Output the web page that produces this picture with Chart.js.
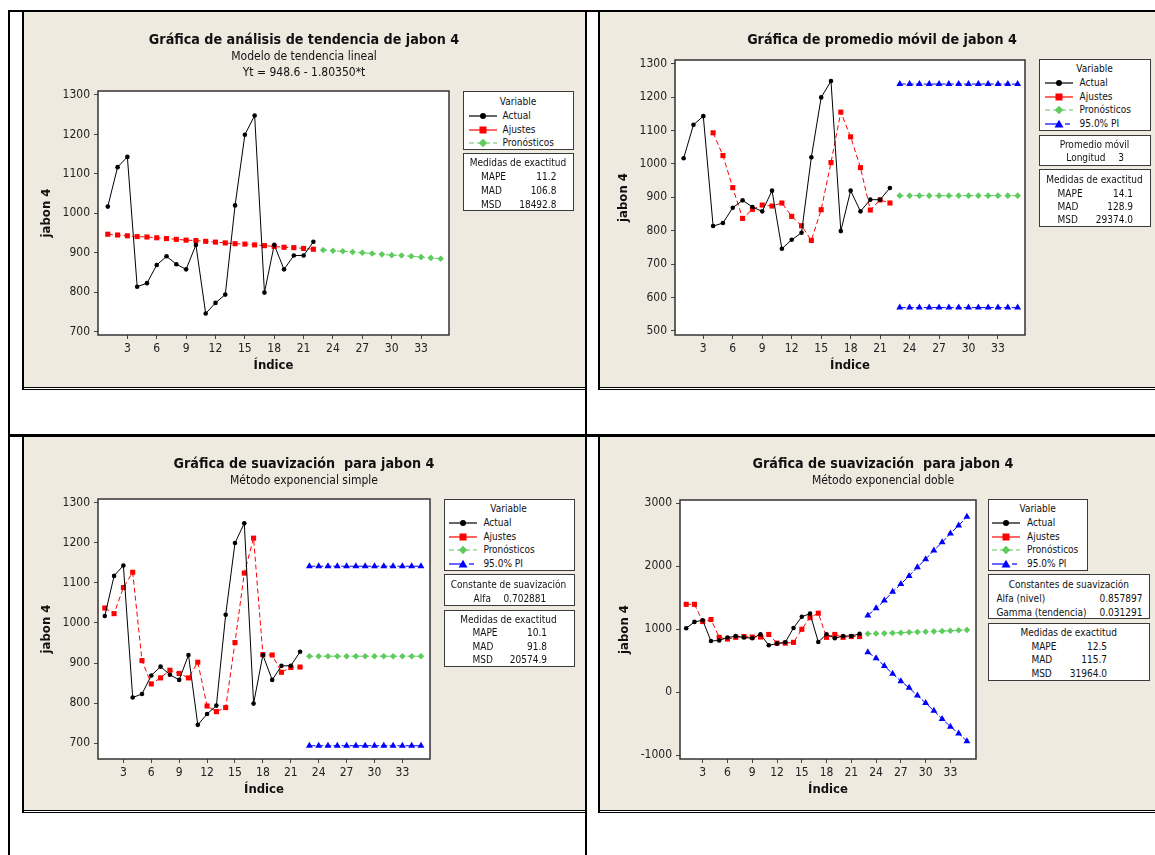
<!DOCTYPE html>
<html>
<head>
<meta charset="utf-8">
<script src="https://cdn.jsdelivr.net/npm/chart.js@4.4.1/dist/chart.umd.min.js"></script>
<style>
  html, body { margin: 0; padding: 0; background: #fff; }
  body { position: relative; width: 1155px; height: 855px; overflow: hidden;
         font-family: 'DejaVu Sans Condensed', 'DejaVu Sans', sans-serif; color: #111; }
  .rule { position: absolute; background: #000; }
  .panel { position: absolute; background: #EEEAE0; overflow: hidden; }
  .panel canvas { position: absolute; left: 0; top: 0; }
  .ttl { position: absolute; white-space: pre; text-align: center; transform: translate(-50%, -50%); }
  .ttl.main { font-weight: bold; font-size: 14.2px; }
  .ttl.sub { font-size: 12px; }
  .box { position: absolute; background: #fff; border: 1.5px solid #3a3a3a; box-sizing: border-box; }
  .box .t { position: absolute; white-space: pre; font-size: 10px; line-height: 12px; transform: translateY(-50%); }
  .box .c { transform: translate(-50%, -50%); }
  .box .r { transform: translate(-100%, -50%); }
  .box svg { position: absolute; }
</style>
</head>
<body>
<script>
// ---- series (index t = 1..22 observed, 23..35 forecast) ----
const obsIndex = [1, 2, 3, 4, 5, 6, 7, 8, 9, 10, 11, 12, 13, 14, 15, 16, 17, 18, 19, 20, 21, 22];
const fcIndex = [23, 24, 25, 26, 27, 28, 29, 30, 31, 32, 33, 34, 35];
const actual = [1017, 1117, 1143, 814, 823, 869, 891, 871, 858, 920, 746, 773, 794, 1020, 1199, 1248, 799, 920, 858, 893, 893, 928];

// linear trend model
const trendFits = [947, 945, 943, 941, 940, 938, 936, 934, 932, 931, 929, 927, 925, 923, 922, 920, 918, 916, 914, 913, 911, 909];
const trendForecast = [907, 905, 904, 902, 900, 898, 896, 894, 893, 891, 889, 887, 885];

// moving average, length 3
const maFitIndex = [4, 5, 6, 7, 8, 9, 10, 11, 12, 13, 14, 15, 16, 17, 18, 19, 20, 21, 22];
const maFits = [1093, 1025, 929, 837, 864, 877, 874, 883, 843, 815, 771, 863, 1004, 1155, 1081, 989, 862, 892, 883];
const maForecast = [905, 905, 905, 905, 905, 905, 905, 905, 905, 905, 905, 905, 905];
const maUpper = [1239, 1239, 1239, 1239, 1239, 1239, 1239, 1239, 1239, 1239, 1239, 1239, 1239];
const maLower = [570, 570, 570, 570, 570, 570, 570, 570, 570, 570, 570, 570, 570];

// single exponential smoothing
const sesFits = [1037, 1023, 1088, 1126, 906, 848, 863, 882, 874, 863, 902, 793, 779, 789, 951, 1124, 1211, 921, 920, 877, 889, 890];
const sesForecast = [917, 917, 917, 917, 917, 917, 917, 917, 917, 917, 917, 917, 917];
const sesUpper = [1141, 1141, 1141, 1141, 1141, 1141, 1141, 1141, 1141, 1141, 1141, 1141, 1141];
const sesLower = [694, 694, 694, 694, 694, 694, 694, 694, 694, 694, 694, 694, 694];

// double exponential smoothing
const desFits = [1396, 1396, 1123, 1155, 872, 845, 872, 885, 877, 877, 918, 780, 780, 792, 1000, 1185, 1255, 872, 918, 872, 885, 885];
const desForecast = [930, 932, 935, 941, 946, 953, 956, 960, 966, 971, 977, 984, 990];
const desUpper = [1220, 1332, 1455, 1594, 1717, 1846, 1985, 2113, 2252, 2381, 2520, 2648, 2787];
const desLower = [637, 540, 417, 294, 177, 70, -53, -171, -294, -423, -546, -653, -776];

// axis ticks
const xTickValues = [3, 6, 9, 12, 15, 18, 21, 24, 27, 30, 33];
const xTickLabels = ['3', '6', '9', '12', '15', '18', '21', '24', '27', '30', '33'];
const yTicksTrend = [700, 800, 900, 1000, 1100, 1200, 1300];
const yTicksMA = [500, 600, 700, 800, 900, 1000, 1100, 1200, 1300];
const yTicksSES = [700, 800, 900, 1000, 1100, 1200, 1300];
const yTicksDES = [-1000, 0, 1000, 2000, 3000];

// legend / summary text
const seriesNames = ['Actual', 'Ajustes', 'Pronósticos', '95.0% PI'];
const accuracyNames = ['MAPE', 'MAD', 'MSD'];
const trendAccuracy = ['11.2', '106.8', '18492.8'];
const maAccuracy = ['14.1', '128.9', '29374.0'];
const sesAccuracy = ['10.1', '91.8', '20574.9'];
const desAccuracy = ['12.5', '115.7', '31964.0'];

const FONT = "'DejaVu Sans Condensed', 'DejaVu Sans', sans-serif";
const COLORS = { actual: '#000000', fits: '#FF0000', forecast: '#5DCB5D', pi: '#0000FF' };

function pts(xs, ys) { return xs.map((x, i) => ({ x: x, y: ys[i] })); }

function ds(kind, label, xs, ys) {
  const base = { label: label, data: pts(xs, ys), borderWidth: 1, pointBorderWidth: 0, fill: false, tension: 0 };
  const c = COLORS[kind];
  base.borderColor = c; base.backgroundColor = c; base.pointBackgroundColor = c;
  if (kind === 'actual') { base.pointStyle = 'circle'; base.pointRadius = 2.3; }
  if (kind === 'fits') { base.pointStyle = 'rect'; base.pointRadius = 3.6; base.borderDash = [5, 3]; }
  if (kind === 'forecast') { base.pointStyle = 'rectRot'; base.pointRadius = 3.3; base.borderDash = [4, 3]; }
  if (kind === 'pi') { base.pointStyle = 'triangle'; base.pointRadius = 4; base.borderDash = [6, 2]; }
  return base;
}

// white plotting region with a dark frame
const plotFrame = {
  id: 'plotFrame',
  beforeDraw(chart) {
    const a = chart.chartArea, ctx = chart.ctx;
    ctx.save(); ctx.fillStyle = '#ffffff';
    ctx.fillRect(a.left, a.top, a.right - a.left, a.bottom - a.top); ctx.restore();
  },
  afterDraw(chart) {
    const a = chart.chartArea, ctx = chart.ctx;
    ctx.save(); ctx.strokeStyle = '#333333'; ctx.lineWidth = 1.5;
    ctx.strokeRect(a.left, a.top, a.right - a.left, a.bottom - a.top); ctx.restore();
  }
};

function rule(x, y, w, h) {
  const d = document.createElement('div'); d.className = 'rule';
  Object.assign(d.style, { left: x + 'px', top: y + 'px', width: w + 'px', height: h + 'px' });
  document.body.appendChild(d);
}

function makePanel(p) {
  const panel = document.createElement('div'); panel.className = 'panel';
  Object.assign(panel.style, { left: p.x + 'px', top: p.y + 'px', width: p.w + 'px', height: p.h + 'px' });
  document.body.appendChild(panel);
  const cv = document.createElement('canvas'); cv.width = p.w; cv.height = p.h;
  cv.style.width = p.w + 'px'; cv.style.height = p.h + 'px';
  panel.appendChild(cv);

  p.titles.forEach(t => {
    const d = document.createElement('div'); d.className = 'ttl ' + t.cls; d.textContent = t.text;
    d.style.left = t.cx + 'px'; d.style.top = t.cy + 'px'; panel.appendChild(d);
  });

  const L = p.layout;
  new Chart(cv.getContext('2d'), {
    type: 'line',
    data: { datasets: p.datasets },
    plugins: [plotFrame],
    options: {
      responsive: false, animation: false, devicePixelRatio: 1,
      layout: { autoPadding: false, padding: { left: L.l, top: L.t, right: L.r, bottom: L.b } },
      plugins: { legend: { display: false }, tooltip: { enabled: false }, title: { display: false } },
      scales: {
        x: {
          type: 'linear', min: p.xMin, max: p.xMax,
          afterBuildTicks: ax => { ax.ticks = xTickValues.map(v => ({ value: v })); },
          afterFit: ax => { ax.height = L.hx; },
          ticks: { color: '#222', font: { family: FONT, size: 12 }, padding: 3, maxRotation: 0,
                   callback: v => xTickLabels[xTickValues.indexOf(v)] },
          grid: { display: true, drawOnChartArea: false, drawTicks: true, tickLength: 4, color: '#444', lineWidth: 1 },
          border: { display: false },
          title: { display: true, text: 'Índice', color: '#111', font: { family: FONT, size: 13, weight: 'bold' }, padding: { top: 4, bottom: 4 } }
        },
        y: {
          type: 'linear', min: p.yMin, max: p.yMax,
          afterBuildTicks: ax => { ax.ticks = p.yTicks.map(v => ({ value: v })); },
          afterFit: ax => { ax.width = L.wy; },
          ticks: { color: '#222', font: { family: FONT, size: 12 }, padding: 4, callback: v => String(v) },
          grid: { display: true, drawOnChartArea: false, drawTicks: true, tickLength: 4, color: '#444', lineWidth: 1 },
          border: { display: false },
          title: { display: true, text: 'jabon 4', color: '#111', font: { family: FONT, size: 13, weight: 'bold' }, padding: { top: 4, bottom: 4 } }
        }
      }
    }
  });

  p.boxes.forEach(b => panel.appendChild(makeBox(b)));
}

function sample(kind) {
  const c = COLORS[kind];
  let s = '<svg width="30" height="10" viewBox="0 0 30 10" xmlns="http://www.w3.org/2000/svg">';
  if (kind === 'actual') s += `<line x1="1" y1="5" x2="29" y2="5" stroke="${c}" stroke-width="1.2"/><circle cx="15" cy="5" r="3" fill="${c}"/>`;
  if (kind === 'fits') s += `<line x1="1" y1="5" x2="29" y2="5" stroke="${c}" stroke-width="1.2"/><rect x="11.5" y="1.5" width="7" height="7" fill="${c}"/>`;
  if (kind === 'forecast') s += `<line x1="1" y1="5" x2="29" y2="5" stroke="${c}" stroke-width="1.2" stroke-dasharray="5,3"/><polygon points="15,0.8 19.2,5 15,9.2 10.8,5" fill="${c}"/>`;
  if (kind === 'pi') s += `<line x1="1" y1="5" x2="15" y2="5" stroke="${c}" stroke-width="1.2"/><line x1="21" y1="5" x2="26" y2="5" stroke="${c}" stroke-width="1.2"/><polygon points="15,0.8 19.5,8.6 10.5,8.6" fill="${c}"/>`;
  return s + '</svg>';
}

function makeBox(b) {
  const d = document.createElement('div'); d.className = 'box';
  Object.assign(d.style, { left: b.x + 'px', top: b.y + 'px', width: b.w + 'px', height: b.h + 'px' });
  b.items.forEach(it => {
    if (it.svg) {
      const holder = document.createElement('div');
      holder.innerHTML = sample(it.svg);
      const sv = holder.firstChild; sv.style.left = (it.x - 15) + 'px'; sv.style.top = (it.y - 5) + 'px';
      d.appendChild(sv);
      return;
    }
    const t = document.createElement('div'); t.className = 't' + (it.align ? ' ' + it.align : '');
    t.textContent = it.text; t.style.left = it.x + 'px'; t.style.top = it.y + 'px';
    d.appendChild(t);
  });
  return d;
}

// legend rows for the Variable box
function variableBox(x, y, w, h, kinds, rows, mx, tx) {
  const items = [{ text: 'Variable', x: w / 2 - 1.5, y: rows[0], align: 'c' }];
  kinds.forEach((k, i) => {
    items.push({ svg: k, x: mx, y: rows[i + 1] });
    items.push({ text: seriesNames[['actual', 'fits', 'forecast', 'pi'].indexOf(k)], x: tx, y: rows[i + 1] });
  });
  return { x, y, w, h, items };
}

function accuracyBox(x, y, w, h, values, rows, lx, vx) {
  const items = [{ text: 'Medidas de exactitud', x: w / 2 - 1.5, y: rows[0], align: 'c' }];
  accuracyNames.forEach((n, i) => {
    items.push({ text: n, x: lx, y: rows[i + 1] });
    items.push({ text: values[i], x: vx, y: rows[i + 1], align: 'r' });
  });
  return { x, y, w, h, items };
}

// ---------- table rules ----------
rule(8, 10, 1147, 2);
rule(8, 10, 2, 845);
rule(585, 10, 2, 845);
rule(8, 434, 1147, 3);
// graph frames
rule(22, 12, 2, 378); rule(22, 387, 563, 1); rule(22, 389, 563, 1);
rule(598, 12, 2, 378); rule(598, 387, 557, 1); rule(598, 389, 557, 1);
rule(22, 437, 2, 376); rule(22, 810, 563, 1); rule(22, 812, 563, 1);
rule(598, 437, 2, 376); rule(598, 810, 557, 1); rule(598, 812, 557, 1);

// ---------- 1: trend analysis ----------
makePanel({
  x: 24, y: 12, w: 561, h: 375,
  layout: { l: 11, wy: 63, t: 79, r: 136, b: 10, hx: 42 },
  xMin: 0, xMax: 35.85, yMin: 691.6, yMax: 1310, yTicks: yTicksTrend,
  titles: [
    { cls: 'main', text: 'Gráfica de análisis de tendencia de jabon 4', cx: 280, cy: 27 },
    { cls: 'sub', text: 'Modelo de tendencia lineal', cx: 280, cy: 44 },
    { cls: 'sub', text: 'Yt = 948.6 - 1.80350*t', cx: 280, cy: 60 }
  ],
  datasets: [
    ds('actual', 'Actual', obsIndex, actual),
    ds('fits', 'Ajustes', obsIndex, trendFits),
    ds('forecast', 'Pronósticos', fcIndex, trendForecast)
  ],
  boxes: [
    variableBox(439, 79, 111, 59, ['actual', 'fits', 'forecast'], [10, 23.6, 37.6, 51.3], 18.6, 38.6),
    accuracyBox(439, 141, 111, 58, trendAccuracy, [9.4, 23.4, 37, 50.7], 17, 92.4)
  ]
});

// ---------- 2: moving average ----------
makePanel({
  x: 600, y: 12, w: 555, h: 375,
  layout: { l: 12, wy: 63, t: 48, r: 130, b: 10, hx: 42 },
  xMin: 0.12, xMax: 35.75, yMin: 488, yMax: 1311, yTicks: yTicksMA,
  titles: [
    { cls: 'main', text: 'Gráfica de promedio móvil de jabon 4', cx: 282, cy: 27 }
  ],
  datasets: [
    ds('actual', 'Actual', obsIndex, actual),
    ds('fits', 'Ajustes', maFitIndex, maFits),
    ds('forecast', 'Pronósticos', fcIndex, maForecast),
    ds('pi', '95.0% PI', fcIndex, maUpper),
    ds('pi', '95.0% PI', fcIndex, maLower)
  ],
  boxes: [
    variableBox(439, 47, 112, 72, ['actual', 'fits', 'forecast', 'pi'], [9, 22.7, 36.7, 50, 64], 19.4, 39.6),
    { x: 439, y: 123, w: 112, h: 31, items: [
      { text: 'Promedio móvil', x: 54.5, y: 8.7, align: 'c' },
      { text: 'Longitud', x: 26.3, y: 22.4 },
      { text: '3', x: 81, y: 22.4, align: 'c' }
    ] },
    accuracyBox(439, 157, 112, 58, maAccuracy, [10, 23.7, 36.7, 50], 17.6, 93)
  ]
});

// ---------- 3: single exponential smoothing ----------
makePanel({
  x: 24, y: 437, w: 561, h: 373,
  layout: { l: 11, wy: 63, t: 62, r: 155, b: 9, hx: 42 },
  xMin: 0.27, xMax: 35.97, yMin: 661, yMax: 1308.5, yTicks: yTicksSES,
  titles: [
    { cls: 'main', text: 'Gráfica de suavización  para jabon 4', cx: 280, cy: 26.3 },
    { cls: 'sub', text: 'Método exponencial simple', cx: 280, cy: 43 }
  ],
  datasets: [
    ds('actual', 'Actual', obsIndex, actual),
    ds('fits', 'Ajustes', obsIndex, sesFits),
    ds('forecast', 'Pronósticos', fcIndex, sesForecast),
    ds('pi', '95.0% PI', fcIndex, sesUpper),
    ds('pi', '95.0% PI', fcIndex, sesLower)
  ],
  boxes: [
    variableBox(419.5, 62.3, 131, 72, ['actual', 'fits', 'forecast', 'pi'], [8.7, 22.4, 36.4, 50, 64], 18.2, 38.9),
    { x: 419.5, y: 137.3, w: 131, h: 32, items: [
      { text: 'Constante de suavización', x: 64, y: 9.4, align: 'c' },
      { text: 'Alfa', x: 29.1, y: 23.4 },
      { text: '0.702881', x: 101.8, y: 23.4, align: 'r' }
    ] },
    accuracyBox(419.5, 173.3, 131, 57, sesAccuracy, [8.7, 21.7, 35.4, 49], 28, 102.5)
  ]
});

// ---------- 4: double exponential smoothing ----------
makePanel({
  x: 600, y: 437, w: 555, h: 373,
  layout: { l: 13, wy: 67, t: 63, r: 179, b: 9, hx: 42 },
  xMin: 0.25, xMax: 36.1, yMin: -1059, yMax: 3052, yTicks: yTicksDES,
  titles: [
    { cls: 'main', text: 'Gráfica de suavización  para jabon 4', cx: 283, cy: 26.3 },
    { cls: 'sub', text: 'Método exponencial doble', cx: 283, cy: 43 }
  ],
  datasets: [
    ds('actual', 'Actual', obsIndex, actual),
    ds('fits', 'Ajustes', obsIndex, desFits),
    ds('forecast', 'Pronósticos', fcIndex, desForecast),
    ds('pi', '95.0% PI', fcIndex, desUpper),
    ds('pi', '95.0% PI', fcIndex, desLower)
  ],
  boxes: [
    variableBox(388.2, 62.3, 100, 72, ['actual', 'fits', 'forecast', 'pi'], [9, 22.4, 36.4, 50, 64], 17.3, 37.8),
    { x: 388.2, y: 137.3, w: 162.2, h: 45, items: [
      { text: 'Constantes de suavización', x: 79.6, y: 9.4, align: 'c' },
      { text: 'Alfa (nivel)', x: 7.2, y: 23.4 },
      { text: '0.857897', x: 153.2, y: 23.4, align: 'r' },
      { text: 'Gamma (tendencia)', x: 7.2, y: 37.4 },
      { text: '0.031291', x: 153.2, y: 37.4, align: 'r' }
    ] },
    accuracyBox(388.2, 185.7, 162, 58, desAccuracy, [9, 23, 36.6, 50.3], 42.2, 117.8)
  ]
});
</script>
</body>
</html>
